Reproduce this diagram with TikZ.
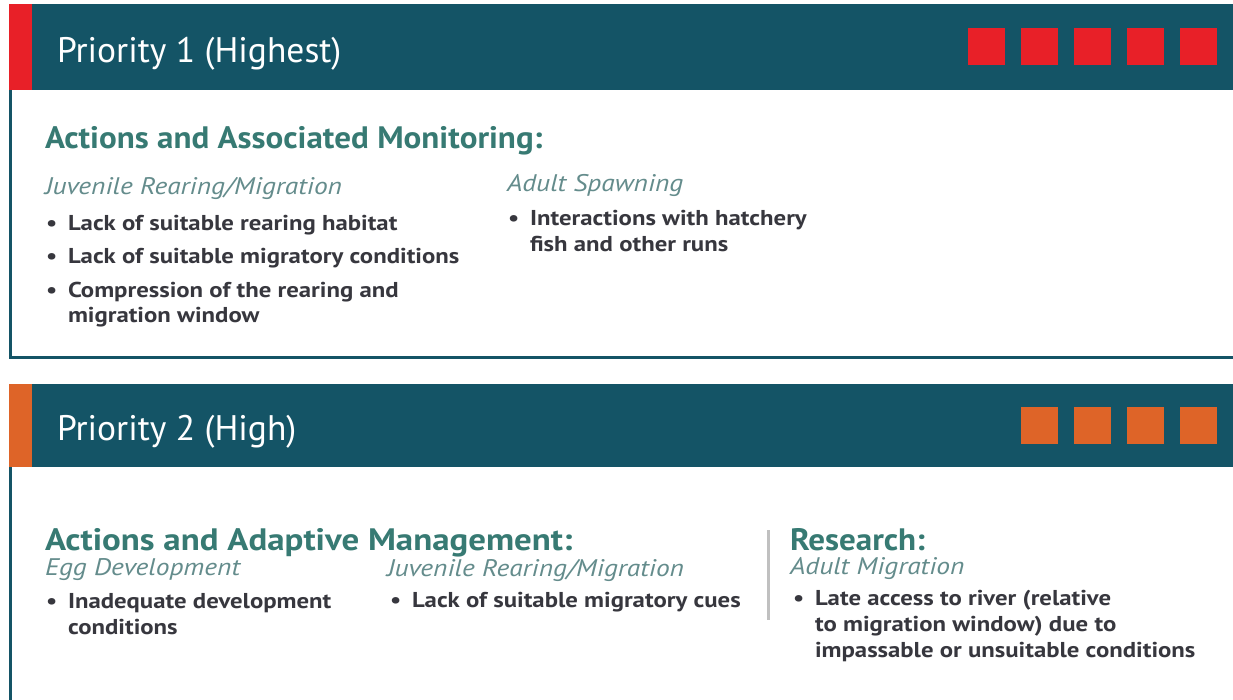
\documentclass[tikz,border=0pt]{standalone}
\usepackage{fontspec}
\setmainfont{PT Sans}
\newfontfamily\titlefont{PT Sans}
\newfontfamily\headfont[FakeStretch=1.066]{PT Sans}
\newfontfamily\headwidefont[FakeStretch=1.126]{PT Sans}
\newfontfamily\subfont[FakeStretch=1.145]{PT Sans}
\newfontfamily\bodyfont[FakeStretch=1.152]{PT Sans}
\definecolor{hdr}{RGB}{20,84,102}
\definecolor{pred}{RGB}{232,32,40}
\definecolor{porange}{RGB}{222,100,40}
\definecolor{headc}{RGB}{55,122,115}
\definecolor{subc}{RGB}{100,140,140}
\definecolor{bodyc}{RGB}{55,55,62}
\definecolor{sepc}{RGB}{192,192,192}
\begin{document}
\begin{tikzpicture}[x=1pt,y=-1pt,
  every node/.style={inner sep=0pt, outer sep=0pt, anchor=base west},
  titletext/.style={font=\titlefont\fontsize{35.5}{40}\selectfont, text=white},
  headtext/.style={font=\headfont\bfseries\fontsize{31}{34}\selectfont, text=headc},
  headwidetext/.style={font=\headwidefont\bfseries\fontsize{31}{34}\selectfont, text=headc},
  subtext/.style={font=\subfont\itshape\fontsize{24}{28}\selectfont, text=subc},
  bodytext/.style={font=\bodyfont\bfseries\fontsize{21.5}{26}\selectfont, text=bodyc},
  bulletdot/.style={font=\bodyfont\bfseries\fontsize{21.5}{26}\selectfont, text=bodyc},
  hdrband/.style={fill=hdr},
  boxline/.style={draw=hdr, line width=3pt},
]
\useasboundingbox (0,0) rectangle (1233,700);
\fill[white] (0,0) rectangle (1233,700);

% ---------- Priority 1 ----------
\fill[hdrband] (9,4) rectangle (1233,90);
\fill[pred] (9,4) rectangle (32,90);
\foreach \i in {0,...,4} {
  \fill[pred] (968+53*\i,28) rectangle +(37,37);
}
\draw[boxline] (10.5,90) -- (10.5,357.5) -- (1233,357.5);

\node[titletext] (t1) at (57,63) {Priority 1 (Highest)};
\node[headtext] (h1) at (45,149) {Actions and Associated Monitoring:};

\node[subtext] (s11) at (45,195) {Juvenile Rearing/Migration};
\node[bulletdot] (d11) at (46,231) {•};
\node[bodytext] (l11) at (68,231) {Lack of suitable rearing habitat};
\node[bulletdot] (d12) at (46,264) {•};
\node[bodytext] (l12) at (68,264) {Lack of suitable migratory conditions};
\node[bulletdot] (d13) at (46,298) {•};
\node[bodytext] (l13) at (68,298) {Compression of the rearing and};
\node[bodytext] (l14) at (68,323) {migration window};

\node[subtext] (s12) at (507,192) {Adult Spawning};
\node[bulletdot] (d15) at (508,226) {•};
\node[bodytext] (l15) at (530,226) {Interactions with hatchery};
\node[bodytext] (l16) at (530,252) {fish and other runs};

% ---------- Priority 2 ----------
\fill[hdrband] (9,384) rectangle (1233,467);
\fill[porange] (9,384) rectangle (32,467);
\foreach \i in {1,...,4} {
  \fill[porange] (968+53*\i,407) rectangle +(37,37);
}
\draw[boxline] (10.5,467) -- (10.5,700);

\node[titletext] (t2) at (57,440) {Priority 2 (High)};
\node[headwidetext] (h2) at (45,550) {Actions and Adaptive Management:};
\node[headtext] (h3) at (790,550) {Research:};

\node[subtext] (s21) at (45,575) {Egg Development};
\node[bulletdot] (d21) at (46,608) {•};
\node[bodytext] (l21) at (68,608) {Inadequate development};
\node[bodytext] (l22) at (68,634) {conditions};

\node[subtext] (s22) at (387,576) {Juvenile Rearing/Migration};
\node[bulletdot] (d23) at (390,607) {•};
\node[bodytext] (l23) at (412,607) {Lack of suitable migratory cues};

\coordinate (septop) at (768,530);
\coordinate (sepbot) at (768,620);
\draw[sepc, line width=3pt] (septop) -- (sepbot);

\node[subtext] (s31) at (790,574) {Adult Migration};
\node[bulletdot] (d31) at (793,605) {•};
\node[bodytext] (l31) at (815,605) {Late access to river (relative};
\node[bodytext] (l32) at (815,631) {to migration window) due to};
\node[bodytext] (l33) at (815,657) {impassable or unsuitable conditions};
\end{tikzpicture}
\end{document}
